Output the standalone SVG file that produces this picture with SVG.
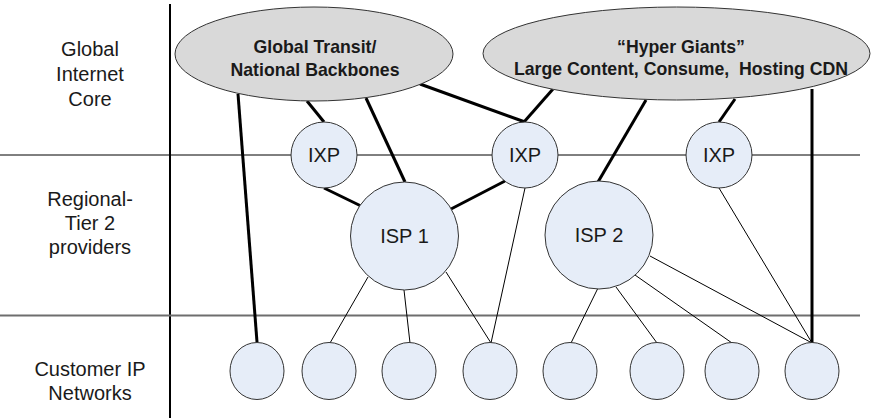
<svg xmlns="http://www.w3.org/2000/svg" width="874" height="418" viewBox="0 0 874 418">
<style>
.bg{fill:#ffffff}
.lbl{font-family:"Liberation Sans",Arial,sans-serif;font-size:20px;fill:#1a1a1a;text-anchor:middle}
.big{font-family:"Liberation Sans",Arial,sans-serif;font-size:17.7px;font-weight:bold;fill:#1a1a1a;text-anchor:middle;white-space:pre}
.core{fill:#d9d9d9;stroke:#333333;stroke-width:1}
.node{fill:#e6edf8;stroke:#333333;stroke-width:1}
.thick{stroke:#000000;stroke-width:3;fill:none}
.thin{stroke:#000000;stroke-width:1;fill:none}
</style>
<rect class="bg" x="0" y="0" width="874" height="418"/>
<g id="frame">
<line x1="170" y1="4" x2="170" y2="418" stroke="#000" stroke-width="2"/>
<line x1="0" y1="155" x2="860" y2="155" stroke="#000" stroke-width="1"/>
<line x1="0" y1="315.5" x2="860" y2="315.5" stroke="#6e6e6e" stroke-width="2"/>
</g>
<g id="tier-labels">
<text class="lbl" x="90" y="56">Global</text>
<text class="lbl" x="90" y="81">Internet</text>
<text class="lbl" x="90" y="106">Core</text>
<text class="lbl" x="90" y="206">Regional-</text>
<text class="lbl" x="90" y="230">Tier 2</text>
<text class="lbl" x="90" y="254">providers</text>
<text class="lbl" x="90" y="376">Customer IP</text>
<text class="lbl" x="90" y="400">Networks</text>
</g>
<g id="connectors">
<line class="thick" x1="238" y1="94" x2="257" y2="342"/>
<line class="thick" x1="307" y1="101" x2="324" y2="122"/>
<line class="thick" x1="366" y1="98" x2="405" y2="182"/>
<line class="thick" x1="420" y1="84" x2="525" y2="122"/>
<line class="thick" x1="324" y1="188" x2="361" y2="206"/>
<line class="thick" x1="451" y1="209" x2="505" y2="181"/>
<line class="thick" x1="553" y1="89" x2="524" y2="122"/>
<line class="thick" x1="646" y1="100" x2="598" y2="182"/>
<line class="thick" x1="735" y1="99" x2="719" y2="122"/>
<line class="thick" x1="812" y1="89" x2="812" y2="343"/>
<line class="thin" x1="525" y1="188" x2="491" y2="343"/>
<line class="thin" x1="368" y1="277" x2="330" y2="343"/>
<line class="thin" x1="404" y1="290" x2="410" y2="343"/>
<line class="thin" x1="446" y1="272" x2="491" y2="343"/>
<line class="thin" x1="598" y1="288" x2="571" y2="343"/>
<line class="thin" x1="616" y1="287" x2="657" y2="343"/>
<line class="thin" x1="635" y1="275" x2="732" y2="343"/>
<line class="thin" x1="650" y1="256" x2="812" y2="343"/>
<line class="thin" x1="719" y1="188" x2="812" y2="343"/>
</g>
<g id="global-transit">
<ellipse class="core" cx="314" cy="54" rx="139" ry="47"/>
<text class="big" x="315" y="53">Global Transit/</text>
<text class="big" x="315" y="75.5">National Backbones</text>
</g>
<g id="hyper-giants">
<ellipse class="core" cx="676.5" cy="53.5" rx="193.5" ry="46.5"/>
<text class="big" x="681" y="52.5">“Hyper Giants”</text>
<text class="big" x="681" y="74.5" xml:space="preserve">Large Content, Consume,  Hosting CDN</text>
</g>
<g id="ixp1"><circle class="node" cx="324" cy="155" r="33"/><text class="lbl" x="324" y="162">IXP</text></g>
<g id="ixp2"><circle class="node" cx="525" cy="155" r="33"/><text class="lbl" x="525" y="162">IXP</text></g>
<g id="ixp3"><circle class="node" cx="719" cy="155" r="33"/><text class="lbl" x="719" y="162">IXP</text></g>
<g id="isp1"><circle class="node" cx="404.5" cy="236" r="54"/><text class="lbl" x="404.5" y="243">ISP 1</text></g>
<g id="isp2"><circle class="node" cx="599" cy="235" r="54"/><text class="lbl" x="599" y="242">ISP 2</text></g>
<g id="cust1"><ellipse class="node" cx="257" cy="371" rx="27" ry="28.5"/></g>
<g id="cust2"><ellipse class="node" cx="329" cy="371" rx="27" ry="28.5"/></g>
<g id="cust3"><ellipse class="node" cx="409" cy="371" rx="27" ry="28.5"/></g>
<g id="cust4"><ellipse class="node" cx="490" cy="371" rx="27" ry="28.5"/></g>
<g id="cust5"><ellipse class="node" cx="570" cy="371" rx="27" ry="28.5"/></g>
<g id="cust6"><ellipse class="node" cx="657" cy="371" rx="27" ry="28.5"/></g>
<g id="cust7"><ellipse class="node" cx="732" cy="371" rx="27" ry="28.5"/></g>
<g id="cust8"><ellipse class="node" cx="812" cy="371" rx="27" ry="28.5"/></g>
</svg>
